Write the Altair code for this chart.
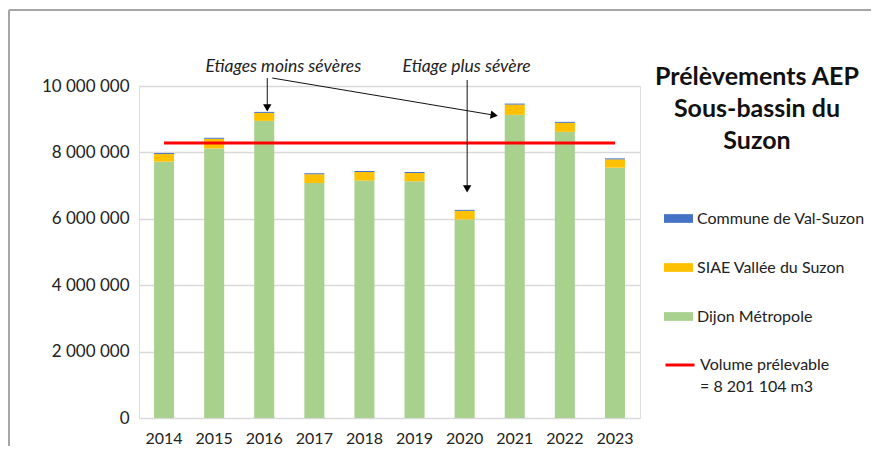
import altair as alt
import pandas as pd

# ---- data ----
years = ["2014", "2015", "2016", "2017", "2018", "2019", "2020", "2021", "2022", "2023"]
dijon = [7720000, 8120000, 8950000, 7080000, 7150000, 7130000, 5980000, 9130000, 8620000, 7540000]
siae = [230000, 290000, 240000, 260000, 260000, 250000, 260000, 310000, 270000, 250000]
commune = [30000, 30000, 30000, 30000, 30000, 30000, 30000, 30000, 30000, 30000]
volume_line = 8280000

series_names = ["Commune de Val-Suzon", "SIAE Vallée du Suzon", "Dijon Métropole"]
series_colors = ["#4472C4", "#FFC000", "#A9D18E"]
line_label = "Volume prélevable|= 8 201 104 m3"
y_ticks = [0, 1000000, 2000000, 3000000, 4000000, 5000000, 6000000, 7000000, 8000000, 9000000, 10000000]
title_lines = ["Prélèvements AEP", "Sous-bassin du", "Suzon"]

# annotations: position on a 0..10 axis (category index + 0.5 is a bar centre)
ann_text = ["Etiages moins sévères", "Etiage plus sévère"]
ann_text_x = [2.88, 6.54]
ann_text_y = [10570000, 10570000]
arrow_x = [2.56, 2.66, 6.55]
arrow_y = [10240000, 10240000, 10180000]
arrow_x2 = [2.56, 7.09, 6.55]
arrow_y2 = [9340000, 9120000, 6900000]
arrow_angle = [0, 279, 0]

FONT = "Lato"

rows = []
for i, y in enumerate(years):
    rows.append({"year": y, "serie": "Dijon Métropole", "v": dijon[i], "o": 0})
    rows.append({"year": y, "serie": "SIAE Vallée du Suzon", "v": siae[i], "o": 1})
    rows.append({"year": y, "serie": "Commune de Val-Suzon", "v": commune[i], "o": 2})
bars_df = pd.DataFrame(rows)
line_df = pd.DataFrame({"year": years, "v": [volume_line] * len(years), "name": [line_label] * len(years)})
text_df = pd.DataFrame({"t": ann_text, "x": ann_text_x, "y": ann_text_y})
arrow_df = pd.DataFrame({"x": arrow_x, "y": arrow_y, "x2": arrow_x2, "y2": arrow_y2, "a": arrow_angle})

yscale = alt.Scale(domain=[0, 10000000])
y_axis = alt.Axis(values=y_ticks, tickCount=10, ticks=False, domain=False, labelPadding=10,
                  labelFontSize=17, labelColor="#222222", labelFont=FONT,
                  gridColor="#D9D9D9", gridWidth=1.5, labelOverlap=False,
                  labelExpr="replace(format(datum.value, ','), /,/g, ' ')")
xband = alt.X("year:N", sort=years, title=None,
              scale=alt.Scale(paddingInner=0.6, paddingOuter=0.3),
              axis=alt.Axis(labelAngle=0, ticks=False, domain=False, labelPadding=12,
                            labelFontSize=16, labelColor="#222222", labelFont=FONT))

bars = alt.Chart(bars_df).mark_bar().encode(
    x=xband,
    y=alt.Y("v:Q", stack="zero", scale=yscale, title=None, axis=y_axis),
    fill=alt.Fill("serie:N", scale=alt.Scale(domain=series_names, range=series_colors),
                  legend=alt.Legend(title=None, orient="none", legendX=525, legendY=118,
                                    symbolType="M-1,-0.3H1V0.3H-1Z", symbolSize=841,
                                    symbolStrokeWidth=0, rowPadding=26, labelOffset=4,
                                    labelFontSize=16, labelFont=FONT, labelColor="#222222",
                                    padding=0, labelLimit=300)),
    order=alt.Order("o:Q"),
)

line = alt.Chart(line_df).mark_line(strokeWidth=3).encode(
    x=alt.X("year:N", sort=years, title=None),
    y=alt.Y("v:Q", scale=yscale, title=None, axis=y_axis),
    stroke=alt.Stroke("name:N", scale=alt.Scale(range=["#FF0000"]),
                      legend=alt.Legend(title=None, orient="none", legendX=525, legendY=263,
                                        symbolType="stroke", symbolSize=841, symbolStrokeWidth=3,
                                        labelOffset=4, labelFontSize=16, labelFont=FONT,
                                        labelColor="#222222", padding=0, labelLimit=300,
                                        labelExpr="split(datum.label, '|')")),
)

xq = alt.Scale(domain=[0, 10])
ann_text_layer = alt.Chart(text_df).mark_text(fontStyle="italic", fontSize=17.5, font=FONT,
                                               color="#222222").encode(
    x=alt.X("x:Q", scale=xq, axis=None),
    y=alt.Y("y:Q", scale=yscale, title=None, axis=y_axis),
    text="t:N",
)
arrow_lines = alt.Chart(arrow_df).mark_rule(color="#111111", strokeWidth=1).encode(
    x=alt.X("x:Q", scale=xq, axis=None), x2="x2:Q",
    y=alt.Y("y:Q", scale=yscale, title=None, axis=y_axis), y2="y2:Q",
)
arrow_heads = alt.Chart(arrow_df).mark_point(shape="triangle-down", filled=True, size=70,
                                             color="#000000", opacity=1).encode(
    x=alt.X("x2:Q", scale=xq, axis=None),
    y=alt.Y("y2:Q", scale=yscale, title=None, axis=y_axis),
    angle=alt.Angle("a:Q", scale=None),
)

title_layer = alt.Chart(alt.Data(values=[{}])).mark_text(
    text=title_lines, fontSize=25, fontWeight="bold", font=FONT, lineHeight=32,
    align="center", baseline="middle", color="#111111"
).encode(x=alt.value(618), y=alt.value(-9))

frame = alt.Chart(alt.Data(values=[{}])).mark_rule(color="#A6A6A6", strokeWidth=2).encode(
    x=alt.value(-130), x2=alt.value(740), y=alt.value(-76)
)
frame2 = alt.Chart(alt.Data(values=[{}])).mark_rule(color="#A6A6A6", strokeWidth=2).encode(
    x=alt.value(-130), y=alt.value(-76), y2=alt.value(400)
)

main = alt.layer(bars, line)
overlay = alt.layer(ann_text_layer, arrow_lines, arrow_heads)

chart = alt.layer(
    main, overlay, title_layer, frame, frame2
).resolve_scale(
    x="independent", fill="independent", stroke="independent"
).properties(
    width=501, height=332,
    autosize=alt.AutoSizeParams(type="none"),
    padding={"left": 131, "top": 78, "right": 231, "bottom": 28},
    background="#FFFFFF",
).configure_view(
    fill="#F2F2F2", stroke=None
).configure_axisY(
    tickCount=10
).configure(font=FONT, style={"guide-label": {"lineHeight": 22}})

chart.save("out.html", embed_options={"renderer": "svg", "actions": False})
